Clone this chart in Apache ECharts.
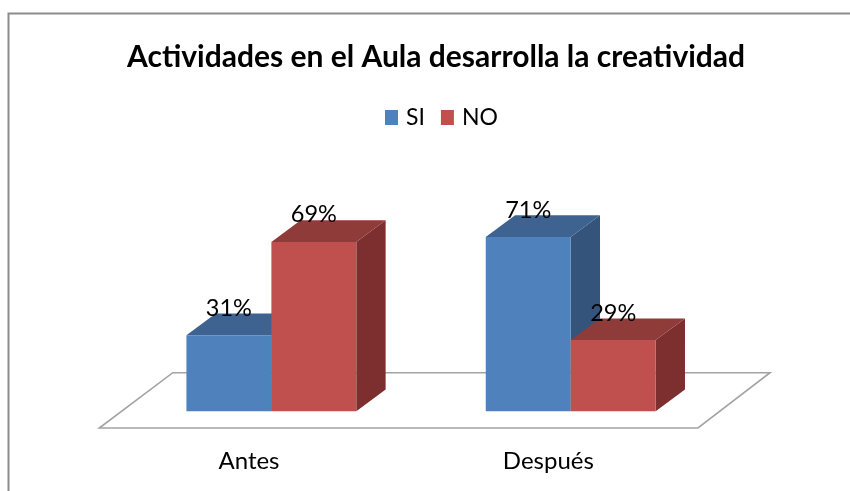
<!DOCTYPE html>
<html>
<head>
<meta charset="utf-8">
<style>html,body{margin:0;padding:0;background:#fff}#c{width:850px;height:491px}</style>
<script src="https://cdn.jsdelivr.net/npm/echarts@6/dist/echarts.min.js"></script>
</head>
<body>
<div id="c"></div>
<script>
const categories = ['Antes', 'Después'];
const siValues = [31, 71];
const noValues = [69, 29];
const titleText = 'Actividades en el Aula desarrolla la creatividad';
const FONT = 'Lato, "Open Sans", sans-serif';

const chart = echarts.init(document.getElementById('c'), null, {renderer: 'canvas'});

const SHIFT_X = 22.4, SHIFT_Y = -16.7, DEPTH_X = 29.3, DEPTH_Y = 21.7;
const FLOOR_BACK_L = 73.5, FLOOR_BACK_R = 72, FLOOR_DY = 55.3;

function barRenderer(side, front, top, sideColor) {
  return function (params, api) {
    const idx = api.value(0), val = api.value(1);
    const base = api.coord([idx, 0]);
    const head = api.coord([idx, val]);
    const w = api.size([1, 0])[0] * 0.2838;
    const cx = base[0] + SHIFT_X;
    const x0 = side < 0 ? cx - w : cx;
    const x1 = x0 + w;
    const yb = base[1] + SHIFT_Y;
    const yt = head[1] + SHIFT_Y;
    const poly = (pts, color) => ({type: 'polygon', shape: {points: pts}, style: {fill: color}});
    return {
      type: 'group',
      children: [
        poly([[x1, yb], [x1 + DEPTH_X, yb - DEPTH_Y], [x1 + DEPTH_X, yt - DEPTH_Y], [x1, yt]], sideColor),
        poly([[x0, yt], [x0 + DEPTH_X, yt - DEPTH_Y], [x1 + DEPTH_X, yt - DEPTH_Y], [x1, yt]], top),
        poly([[x0, yb], [x1, yb], [x1, yt], [x0, yt]], front),
        {type: 'text', style: {
          text: val + '%', x: (x0 + x1) / 2, y: yt - 27,
          align: 'center', verticalAlign: 'middle',
          font: '23.5px ' + FONT, fill: '#000'
        }}
      ]
    };
  };
}

function floorRenderer(params) {
  const c = params.coordSys;
  const l = c.x, r = c.x + c.width, b = c.y + c.height;
  return {
    type: 'polygon',
    shape: {points: [[l, b], [r, b], [r + FLOOR_BACK_R, b - FLOOR_DY], [l + FLOOR_BACK_L, b - FLOOR_DY]]},
    style: {fill: '#fff', stroke: '#a3a3a3', lineWidth: 1.6}
  };
}

chart.setOption({
  animation: false,
  backgroundColor: '#fff',
  title: {
    text: titleText, left: 122, top: 37,
    textStyle: {fontFamily: FONT, fontSize: 30, fontWeight: 'bold', color: '#000'}
  },
  legend: {
    data: ['SI', 'NO'], top: 101, left: 380,
    icon: 'rect', itemWidth: 13, itemHeight: 15, itemGap: 16,
    textStyle: {fontFamily: FONT, fontSize: 23, color: '#000', padding: [0, 0, 0, 3]}
  },
  grid: {left: 99.3, width: 598.7, top: 182.5, height: 245.5},
  xAxis: {
    type: 'category', data: categories,
    axisLine: {show: false}, axisTick: {show: false},
    axisLabel: {fontFamily: FONT, fontSize: 24, color: '#000', margin: 21}
  },
  yAxis: {type: 'value', min: 0, max: 100, show: false},
  series: [
    {type: 'custom', name: 'floor', silent: true, renderItem: floorRenderer, data: [[0, 0]], encode: {x: 0, y: 1}, z: 1},
    {type: 'custom', name: 'SI', itemStyle: {color: '#4F81BD'}, z: 2,
      renderItem: barRenderer(-1, '#4F81BD', '#3E6390', '#34547C'),
      data: categories.map((_, i) => [i, siValues[i]]), encode: {x: 0, y: 1}},
    {type: 'custom', name: 'NO', itemStyle: {color: '#C0504D'}, z: 3,
      renderItem: barRenderer(1, '#C0504D', '#8F3B39', '#7C2F2E'),
      data: categories.map((_, i) => [i, noValues[i]]), encode: {x: 0, y: 1}}
  ],
  graphic: [
    {type: 'polyline', silent: true, shape: {points: [[8.5, 491], [8.5, 13.5], [850, 13.5]]},
     style: {fill: 'none', stroke: '#8c8c8c', lineWidth: 2}}
  ]
});
</script>
</body>
</html>
